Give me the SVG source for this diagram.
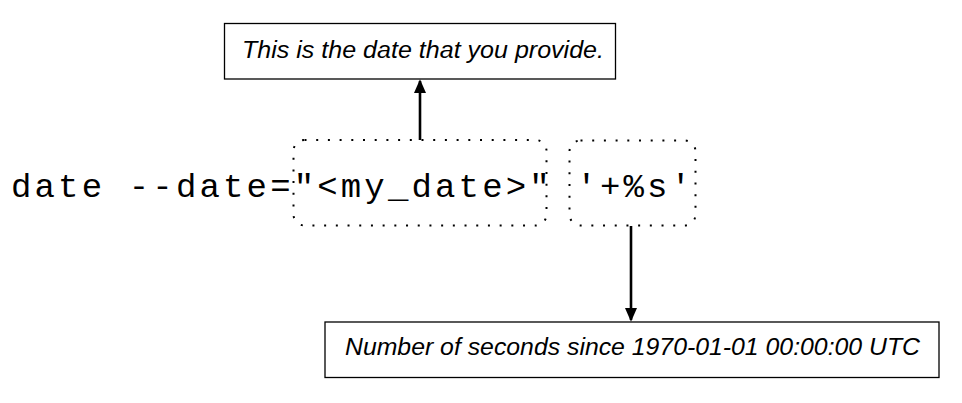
<svg xmlns="http://www.w3.org/2000/svg" width="962" height="403" viewBox="0 0 962 403">
<style>
.note{fill:#fff;stroke:#000;stroke-width:1.3}
.nt{font-family:"Liberation Sans",Arial,sans-serif;font-style:italic;font-size:23.5px;fill:#000;text-anchor:middle}
.cmd{font-family:"Liberation Mono","Courier New",monospace;font-size:34px;fill:#000}
.dot{fill:none;stroke:#000;stroke-width:2;stroke-dasharray:2 9.7}
.conn{stroke:#000;stroke-width:2.6;fill:none}
</style>
<defs>
<marker id="ah" markerWidth="14" markerHeight="16" refX="14" refY="7" orient="auto" markerUnits="userSpaceOnUse" viewBox="0 0 16 14">
<path d="M0,0 L16,7 L0,14 Z" fill="#000"/>
</marker>
</defs>
<rect width="962" height="403" fill="#fff"/>
<g id="command">
<text class="cmd" x="11" y="197" textLength="680" lengthAdjust="spacing">date --date="&lt;my_date&gt;" '+%s'</text>
</g>
<g id="date-group">
<rect class="dot" x="293.5" y="140" width="253" height="85.5" rx="11"/>
</g>
<g id="format-group">
<rect class="dot" x="569.5" y="140.5" width="126" height="85" rx="11"/>
</g>
<g id="date-note">
<rect class="note" x="224.5" y="23.5" width="391" height="55.5"/>
<text class="nt" x="423" y="58" textLength="362" lengthAdjust="spacingAndGlyphs">This is the date that you provide.</text>
</g>
<g id="seconds-note">
<rect class="note" x="325" y="322" width="614" height="55.5"/>
<text class="nt" x="632.5" y="355" textLength="575" lengthAdjust="spacingAndGlyphs">Number of seconds since 1970-01-01 00:00:00 UTC</text>
</g>
<g id="connectors">
<line class="conn" x1="420" y1="140" x2="420" y2="81" marker-end="url(#ah)"/>
<line class="conn" x1="631" y1="226" x2="631" y2="320" marker-end="url(#ah)"/>
</g>
</svg>
